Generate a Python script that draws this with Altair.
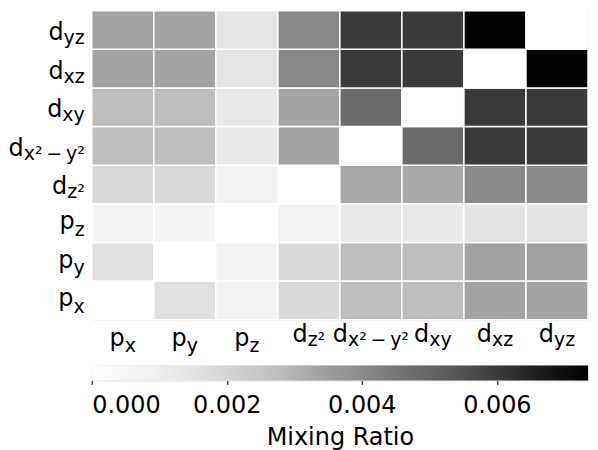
import altair as alt
import pandas as pd

# ---- data ----
orbitals = ["px", "py", "pz", "dz2", "dx2y2", "dxy", "dxz", "dyz"]
label_main = ["p", "p", "p", "d", "d", "d", "d", "d"]
label_sub = ["x", "y", "z", "z²", "x²\u2009−\u2009y²", "xy", "xz", "yz"]

# mixing ratio (x 1e-3); one list per row orbital, columns in orbital order
row_px = [0.00, 1.56, 0.79, 1.84, 2.76, 2.76, 3.37, 3.37]
row_py = [1.56, 0.00, 0.79, 1.84, 2.76, 2.76, 3.37, 3.37]
row_pz = [0.61, 0.61, 0.00, 0.79, 1.23, 1.23, 1.48, 1.48]
row_dz2 = [1.84, 1.84, 0.79, 0.00, 3.25, 3.25, 3.99, 3.99]
row_dx2y2 = [2.76, 2.76, 1.23, 3.31, 0.00, 4.81, 5.98, 5.98]
row_dxy = [2.76, 2.76, 1.23, 3.31, 4.81, 0.00, 5.98, 5.98]
row_dxz = [3.37, 3.37, 1.40, 4.04, 5.98, 5.98, 0.00, 7.35]
row_dyz = [3.37, 3.37, 1.40, 4.04, 5.98, 5.98, 7.35, 0.00]
rows = [row_px, row_py, row_pz, row_dz2, row_dx2y2, row_dxy, row_dxz, row_dyz]

vmax = 7.35e-3
colorbar_ticks = [0.000, 0.002, 0.004, 0.006]
greys9 = ["#ffffff", "#f0f0f0", "#d9d9d9", "#bdbdbd", "#969696",
          "#737373", "#525252", "#252525", "#000000"]

# ---- build tables ----
recs = []
for r, vals in zip(orbitals, rows):
    for c, v in zip(orbitals, vals):
        recs.append({"row": r, "col": c, "value": v * 1e-3})
df = pd.DataFrame(recs)
df_lab = pd.DataFrame({"orb": orbitals, "main": label_main, "sub": label_sub})

W, H = 498, 310
FONT = "DejaVu Sans"
MAIN_FS, SUB_FS = 24, 19
char_w = {"p": 0.635, "d": 0.635, "x": 0.592, "y": 0.592, "z": 0.525,
          "²": 0.401, " ": 0.318, "\u2009": 0.2, "−": 0.838}


def text_w(s, fs):
    return sum(char_w.get(ch, 0.6) for ch in s) * fs


def xscale():
    return alt.Scale(domain=orbitals, paddingInner=0, paddingOuter=0)


def yscale():
    return alt.Scale(domain=orbitals[::-1], paddingInner=0, paddingOuter=0)


tick_axis = alt.Axis(labels=False, title=None, domain=False, ticks=True,
                     tickSize=5, tickColor="#000000", tickWidth=1)

heat = alt.Chart(df).mark_rect(stroke="white", strokeWidth=1.5).encode(
    x=alt.X("col:N", scale=xscale(), axis=tick_axis),
    y=alt.Y("row:N", scale=yscale(), axis=tick_axis),
    color=alt.Color("value:Q",
                    scale=alt.Scale(domain=[vmax * i / 8 for i in range(9)],
                                    range=greys9, nice=False, zero=False,
                                    clamp=True),
                    legend=None),
)

layers = [heat]
for orb, m, s in zip(orbitals, label_main, label_sub):
    wm = text_w(m, MAIN_FS)
    ws = text_w(s, SUB_FS)
    anchor = (wm - ws) / 2
    base = alt.Chart(df_lab).transform_filter(alt.datum.orb == orb)
    # x-axis labels
    xm_off = 26 if m == "p" else 22
    xs_off = xm_off + (6 if m == "p" else 4)
    layers.append(base.mark_text(align="right", baseline="alphabetic", font=FONT,
                                 fontSize=MAIN_FS, dx=anchor, color="black").encode(
        x=alt.X("orb:N", scale=xscale(), axis=None), y=alt.value(H + xm_off), text="main:N"))
    layers.append(base.mark_text(align="left", baseline="alphabetic", font=FONT,
                                 fontSize=SUB_FS, dx=anchor, dy=xs_off - xm_off,
                                 color="black").encode(
        x=alt.X("orb:N", scale=xscale(), axis=None), y=alt.value(H + xm_off), text="sub:N"))
    # y-axis labels
    ym_off = 6 if m == "p" else 10
    ys_off = ym_off + (6.5 if m == "p" else 4)
    layers.append(base.mark_text(align="right", baseline="alphabetic", font=FONT,
                                 fontSize=MAIN_FS, dx=-ws, dy=ym_off, color="black").encode(
        y=alt.Y("orb:N", scale=yscale(), axis=None), x=alt.value(-7), text="main:N"))
    layers.append(base.mark_text(align="right", baseline="alphabetic", font=FONT,
                                 fontSize=SUB_FS, dy=ys_off, color="black").encode(
        y=alt.Y("orb:N", scale=yscale(), axis=None), x=alt.value(-7), text="sub:N"))

heatmap = alt.layer(*layers).properties(width=W, height=H)

cb_df = pd.DataFrame({"lo": [0.0], "hi": [vmax]})
grad = alt.Gradient(gradient="linear",
                    stops=[alt.GradientStop(offset=i / 8, color=c) for i, c in enumerate(greys9)],
                    x1=0, x2=1, y1=0, y2=0)
cbar = alt.Chart(cb_df).mark_rect(color=grad).encode(
    x=alt.X("lo:Q", scale=alt.Scale(domain=[0, vmax], nice=False, zero=False),
            axis=alt.Axis(values=colorbar_ticks, format=".3f", title="Mixing Ratio",
                          domain=False, grid=False, tickSize=4, tickColor="#000000",
                          labelFontSize=24, labelColor="black", labelPadding=9,
                          titleFontSize=24, titleFontWeight="normal", titleColor="black",
                          titlePadding=8, labelFont=FONT, titleFont=FONT)),
    x2="hi:Q",
    y=alt.value(0),
    y2=alt.value(15),
).properties(width=W, height=15)

chart = alt.vconcat(heatmap, cbar, spacing=8).properties(
    padding={"left": 0, "top": 0, "right": 0, "bottom": 0}
).configure_view(stroke=None).configure(font=FONT)

chart.save("out.html", embed_options={"renderer": "svg", "actions": False})
